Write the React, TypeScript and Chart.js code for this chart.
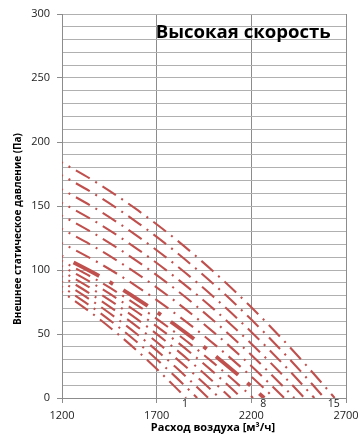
import React, { useEffect, useRef } from 'react';
import { Chart, registerables } from 'chart.js';

Chart.register(...registerables);

// Flow grid (m³/h) at which pressures are read
const FLOW_GRID = [1200, 1400, 1600, 1800, 2000, 2200, 2400, 2600];

// Static pressure (Pa) of each fan curve at FLOW_GRID points
const CURVE_1 = [83, 61.4, 36.5, 8.3];
const CURVE_2 = [87, 66.6, 43.2, 16.5];
const CURVE_3 = [91, 71.7, 49.4, 24.2];
const CURVE_4 = [95, 76.6, 55.4, 31.4, 4.6];
const CURVE_5 = [99, 81.4, 61.2, 38.2, 12.6];
const CURVE_6 = [103, 86.2, 66.8, 44.7, 20.2];
const CURVE_7 = [107, 90.8, 72.2, 51, 27.4, 1.3];
const CURVE_8 = [110.5, 95, 77.1, 56.8, 34.1, 9.1];
const CURVE_9 = [121, 105.1, 86.7, 65.8, 42.5, 16.8];
const CURVE_10 = [132, 115.6, 96.8, 75.4, 51.5, 25];
const CURVE_11 = [142.5, 125.8, 106.6, 84.9, 60.5, 33.6, 4.2];
const CURVE_12 = [152.5, 135.7, 116.2, 94.2, 69.6, 42.4, 12.6];
const CURVE_13 = [163, 146, 126.3, 104, 79.1, 51.6, 21.5];
const CURVE_14 = [174, 156.8, 136.9, 114.3, 89.1, 61.3, 30.7];
const CURVE_15 = [184, 166.7, 146.7, 124.1, 98.8, 70.9, 40.3, 7];

const CURVES = [CURVE_1, CURVE_2, CURVE_3, CURVE_4, CURVE_5, CURVE_6, CURVE_7, CURVE_8,
  CURVE_9, CURVE_10, CURVE_11, CURVE_12, CURVE_13, CURVE_14, CURVE_15];

// Flow where each curve reaches 0 Pa
const END_FLOW = [1855, 1914, 1973, 2032, 2091, 2150, 2209, 2268, 2321, 2374, 2427, 2480, 2533, 2586, 2640];

const CURVE_NAMES = ['1', '2', '3', '4', '5', '6', '7', '8', '9', '10', '11', '12', '13', '14', '15'];
const LABELED_CURVES = ['1', '8', '15'];
const HIGHLIGHT_CURVE = '8';

const X_TICKS = [1200, 1700, 2200, 2700];
const Y_TICK_LABELS = [0, 50, 100, 150, 200, 250, 300];

const TITLE = 'Высокая скорость';
const X_TITLE = 'Расход воздуха [м³/ч]';
const Y_TITLE = 'Внешнее статическое давление (Па)';

const RED = '#C0504D';
const FONT = "'Open Sans', 'Noto Sans', sans-serif";

export default function App() {
  const ref = useRef<HTMLCanvasElement>(null);

  useEffect(() => {
    if (!ref.current) return;

    const datasets = CURVES.map((vals, i) => {
      const pts = vals.map((y, j) => ({ x: FLOW_GRID[j], y }));
      pts.push({ x: END_FLOW[i], y: 0 });
      const thick = CURVE_NAMES[i] === HIGHLIGHT_CURVE;
      return {
        label: CURVE_NAMES[i],
        data: pts,
        showLine: true,
        borderColor: RED,
        backgroundColor: RED,
        borderWidth: thick ? 3.8 : 2.1,
        borderDash: thick ? [29, 12, 4, 12] : [16, 6.5, 2, 6.5],
        borderDashOffset: thick ? 44 : 15,
        borderCapStyle: 'butt',
        pointRadius: 0,
        cubicInterpolationMode: 'monotone',
      };
    });

    const textPlugin = {
      id: 'texts',
      afterDraw(chart: any) {
        const { ctx, chartArea, scales } = chart;
        const xs = scales.x;
        ctx.save();
        ctx.fillStyle = '#000';
        // title inside plot
        ctx.font = `bold 18.6px ${FONT}`;
        ctx.textAlign = 'left';
        ctx.textBaseline = 'middle';
        ctx.fillText(TITLE, xs.getPixelForValue(1700) - 1, chartArea.top + 19);
        // curve labels
        ctx.font = `10.5px ${FONT}`;
        ctx.textAlign = 'center';
        ctx.fillStyle = '#222';
        LABELED_CURVES.forEach((name) => {
          const i = CURVE_NAMES.indexOf(name);
          ctx.fillText(name, xs.getPixelForValue(END_FLOW[i]) - 1, chartArea.bottom + 6);
        });
        // axis titles
        ctx.fillStyle = '#000';
        ctx.font = `bold 11px ${FONT}`;
        ctx.fillText(X_TITLE, chartArea.left + 151, chartArea.bottom + 30);
        ctx.translate(18, chartArea.top + 215);
        ctx.rotate(-Math.PI / 2);
        ctx.font = `bold 10px ${FONT}`;
        ctx.fillText(Y_TITLE, 0, 0);
        ctx.restore();
      },
    };

    const chart = new Chart(ref.current, {
      type: 'scatter',
      data: { datasets: datasets as any },
      options: {
        animation: false,
        responsive: false,
        layout: { padding: { top: 14, right: 13, left: 0, bottom: 0 } },
        plugins: { legend: { display: false }, tooltip: { enabled: false }, title: { display: false } },
        scales: {
          x: {
            type: 'linear',
            min: X_TICKS[0],
            max: X_TICKS[X_TICKS.length - 1],
            afterBuildTicks: (s: any) => { s.ticks = X_TICKS.map((v) => ({ value: v })); },
            afterFit: (s: any) => { s.height = 36; s.paddingLeft = 0; s.paddingRight = 0; },
            ticks: {
              font: { family: FONT, size: 11 },
              color: '#222',
              padding: 6,
              maxRotation: 0,
              autoSkip: false,
              callback: (v: any) => String(v),
            },
            grid: { color: '#8c8c8c', lineWidth: 1, tickLength: 5, tickColor: '#8c8c8c' },
            border: { color: '#8c8c8c', width: 1 },
          },
          y: {
            type: 'linear',
            min: 0,
            max: 300,
            ticks: {
              stepSize: 10,
              autoSkip: false,
              font: { family: FONT, size: 11 },
              color: '#222',
              padding: 7,
              callback: (v: any) => (Y_TICK_LABELS.includes(Number(v)) ? String(v) : ''),
            },
            afterFit: (s: any) => { s.width = 62; s.paddingTop = 0; s.paddingBottom = 0; },
            grid: {
              color: '#b0b0b0',
              lineWidth: 1,
              tickLength: 5,
              tickColor: (c: any) => (c.tick && Y_TICK_LABELS.includes(c.tick.value) ? '#8c8c8c' : 'rgba(0,0,0,0)'),
            },
            border: { color: '#8c8c8c', width: 1 },
          },
        },
      },
      plugins: [textPlugin],
    } as any);

    return () => chart.destroy();
  }, []);

  return (
    <div style={{ position: 'fixed', left: 0, top: 0, width: 359, height: 434, background: '#fff' }}>
      <canvas ref={ref} width={359} height={434} style={{ display: 'block' }} />
    </div>
  );
}
